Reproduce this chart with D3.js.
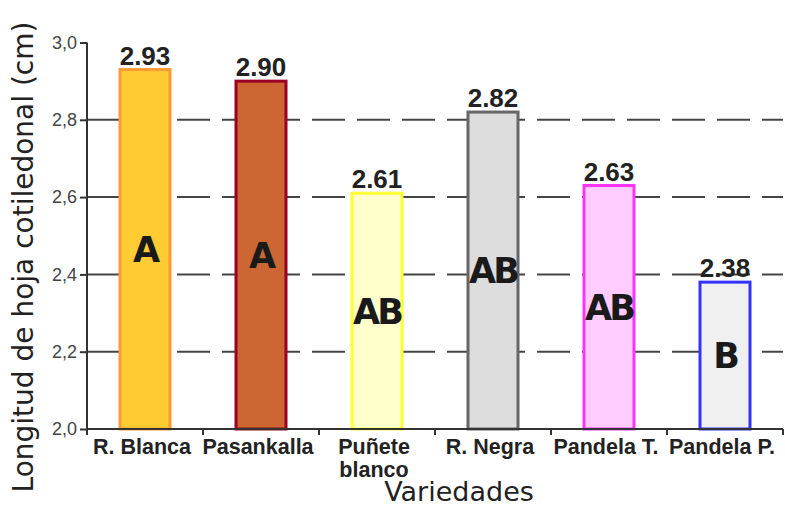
<!DOCTYPE html>
<html>
<head>
<meta charset="utf-8">
<script src="https://cdn.jsdelivr.net/npm/d3@7"></script>
<style>
  html, body { margin: 0; padding: 0; background: #fff; }
  svg { display: block; }
</style>
</head>
<body>
<svg id="chart" width="785" height="507"></svg>
<script>
// Cotyledon leaf length per variety
const categories = ["R. Blanca", "Pasankalla", "Puñete blanco", "R. Negra", "Pandela T.", "Pandela P."];
const values = [2.93, 2.90, 2.61, 2.82, 2.63, 2.38];
const groups = ["A", "A", "AB", "AB", "AB", "B"];
const fills = ["#FFCC33", "#CC6633", "#FFFFCC", "#DDDDDD", "#FFCCFF", "#F0F0F0"];
const strokes = ["#FF9933", "#990022", "#FFFF33", "#666666", "#FF33FF", "#3333FF"];
const yTicks = [2.0, 2.2, 2.4, 2.6, 2.8, 3.0];
const gridValues = [2.2, 2.4, 2.6, 2.8];

const svg = d3.select("#chart");
const plotLeft = 87, plotRight = 783, plotTop = 42.5, plotBottom = 429;

const x = d3.scaleBand().domain(categories).range([plotLeft, plotRight]).paddingInner(0).paddingOuter(0);
const y = d3.scaleLinear().domain([2.0, 3.0]).range([plotBottom, plotTop]);

const sans = "'Liberation Sans', Arial, sans-serif";
const wide = "'DejaVu Sans', Verdana, sans-serif";

// dashed horizontal grid behind the bars
svg.append("g")
  .selectAll("line")
  .data(gridValues)
  .join("line")
  .attr("x1", plotLeft).attr("x2", plotRight)
  .attr("y1", d => y(d)).attr("y2", d => y(d))
  .attr("stroke", "#444")
  .attr("stroke-width", 2)
  .attr("stroke-dasharray", "33,12");

// bars
const barW = 50;
const data = categories.map((c, i) => ({ c, v: values[i], g: groups[i], fill: fills[i], stroke: strokes[i] }));

svg.append("g")
  .selectAll("rect")
  .data(data)
  .join("rect")
  .attr("x", d => x(d.c) + x.bandwidth() / 2 - barW / 2)
  .attr("y", d => y(d.v))
  .attr("width", barW)
  .attr("height", d => y(2.0) - y(d.v))
  .attr("fill", d => d.fill)
  .attr("stroke", d => d.stroke)
  .attr("stroke-width", 3);

// value labels above bars
svg.append("g")
  .selectAll("text")
  .data(data)
  .join("text")
  .attr("x", d => x(d.c) + x.bandwidth() / 2)
  .attr("y", d => y(d.v) - 5)
  .attr("text-anchor", "middle")
  .attr("font-family", sans)
  .attr("font-weight", "bold")
  .attr("font-size", 26)
  .attr("fill", "#222")
  .text(d => d.v.toFixed(2));

// significance groups inside bars
svg.append("g")
  .selectAll("text")
  .data(data)
  .join("text")
  .attr("x", d => x(d.c) + x.bandwidth() / 2)
  .attr("y", d => (y(d.v) + y(2.0)) / 2)
  .attr("dy", "0.36em")
  .attr("text-anchor", "middle")
  .attr("font-family", wide)
  .attr("font-weight", "bold")
  .attr("font-size", 35)
  .attr("letter-spacing", -3)
  .attr("fill", "#1a1a1a")
  .text(d => d.g);

// y axis
const yAxis = svg.append("g")
  .attr("transform", `translate(${plotLeft},0)`)
  .call(d3.axisLeft(y).tickValues(yTicks).tickSize(7).tickPadding(3)
    .tickFormat(d => d3.format(".1f")(d).replace(".", ",")));
yAxis.select(".domain").attr("stroke", "#333").attr("stroke-width", 2).attr("d", `M0,${plotTop}V${plotBottom + 6}`);
yAxis.selectAll(".tick line").attr("stroke", "#333").attr("stroke-width", 2);
yAxis.selectAll(".tick text")
  .attr("font-family", sans)
  .attr("font-size", 18)
  .attr("fill", "#444");

// x axis
const xAxis = svg.append("g")
  .attr("transform", `translate(0,${plotBottom})`)
  .call(d3.axisBottom(x).tickSize(0).tickFormat(""));
xAxis.select(".domain").attr("stroke", "#333").attr("stroke-width", 2).attr("d", `M${plotLeft},0H${plotRight}`);

// tick marks at category boundaries
const bounds = categories.map(c => x(c) + x.bandwidth());
xAxis.append("g")
  .selectAll("line")
  .data(bounds)
  .join("line")
  .attr("x1", d => d).attr("x2", d => d)
  .attr("y1", 0).attr("y2", 6)
  .attr("stroke", "#333")
  .attr("stroke-width", 2);

// category labels ("Puñete blanco" wraps onto two lines)
const catLabels = svg.append("g")
  .selectAll("text")
  .data(categories)
  .join("text")
  .attr("x", d => x(d) + x.bandwidth() / 2 - 3)
  .attr("y", 454)
  .attr("text-anchor", "middle")
  .attr("font-family", sans)
  .attr("font-weight", "bold")
  .attr("font-size", 21.5)
  .attr("fill", "#222");
catLabels.each(function(d) {
  const t = d3.select(this);
  const lines = d === "Puñete blanco" ? ["Puñete", "blanco"] : [d];
  lines.forEach((ln, i) => {
    t.append("tspan")
      .attr("x", x(d) + x.bandwidth() / 2 - 3)
      .attr("dy", i === 0 ? 0 : 23)
      .text(ln);
  });
});

// axis titles
svg.append("text")
  .attr("x", 459)
  .attr("y", 501)
  .attr("text-anchor", "middle")
  .attr("font-family", wide)
  .attr("font-size", 27)
  .attr("fill", "#222")
  .text("Variedades");

svg.append("text")
  .attr("transform", "translate(33,257) rotate(-90)")
  .attr("text-anchor", "middle")
  .attr("font-family", wide)
  .attr("font-size", 28)
  .attr("fill", "#222")
  .text("Longitud de hoja cotiledonal (cm)");
</script>
</body>
</html>
